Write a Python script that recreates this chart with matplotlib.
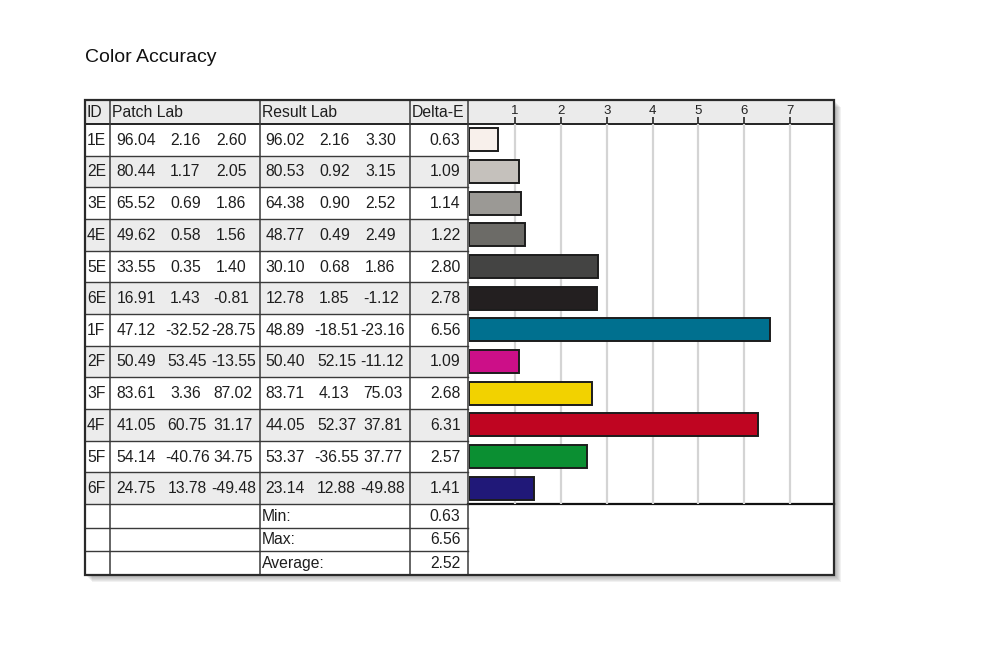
import matplotlib
matplotlib.use("Agg")
import matplotlib.pyplot as plt
from matplotlib.patches import Rectangle

# ---------------- data ----------------
patch_ids = ["1E", "2E", "3E", "4E", "5E", "6E", "1F", "2F", "3F", "4F", "5F", "6F"]
patch_L = [96.04, 80.44, 65.52, 49.62, 33.55, 16.91, 47.12, 50.49, 83.61, 41.05, 54.14, 24.75]
patch_a = [2.16, 1.17, 0.69, 0.58, 0.35, 1.43, -32.52, 53.45, 3.36, 60.75, -40.76, 13.78]
patch_b = [2.60, 2.05, 1.86, 1.56, 1.40, -0.81, -28.75, -13.55, 87.02, 31.17, 34.75, -49.48]
result_L = [96.02, 80.53, 64.38, 48.77, 30.10, 12.78, 48.89, 50.40, 83.71, 44.05, 53.37, 23.14]
result_a = [2.16, 0.92, 0.90, 0.49, 0.68, 1.85, -18.51, 52.15, 4.13, 52.37, -36.55, 12.88]
result_b = [3.30, 3.15, 2.52, 2.49, 1.86, -1.12, -23.16, -11.12, 75.03, 37.81, 37.77, -49.88]
delta_e = [0.63, 1.09, 1.14, 1.22, 2.80, 2.78, 6.56, 1.09, 2.68, 6.31, 2.57, 1.41]
bar_colors = ["#f8f0eb", "#c5c1bc", "#9b9995", "#6c6b67", "#444443", "#231f20",
              "#00708f", "#cc0f88", "#f2d200", "#bf0521", "#0b8f32", "#201878"]
summary_labels = ["Min:", "Max:", "Average:"]
summary_values = [0.63, 6.56, 2.52]
header_labels = ["ID", "Patch Lab", "Result Lab", "Delta-E"]
axis_ticks = [1, 2, 3, 4, 5, 6, 7]

# ---------------- layout (pixels) ----------------
W, H = 981, 647
fig = plt.figure(figsize=(W / 100, H / 100), dpi=100)
fig.patch.set_facecolor("white")
ax = fig.add_axes([0, 0, 1, 1])
ax.set_xlim(0, W)
ax.set_ylim(H, 0)
ax.axis("off")

FONT = "Liberation Sans"
FS = 11.3
TXT = "#1e1e1e"
LINE = "#3a3a3a"

cols = [85, 110, 260, 410, 468, 834]
top, head_bot = 100, 124
n = len(patch_ids)
data_bot = 504
row_h = (data_bot - head_bot) / n
sum_h = (575 - data_bot) / 3
bottom = 575

# title
ax.text(85, 57.5, "Color Accuracy", fontsize=14, family=FONT, color="#111111",
        ha="left", va="center")

# shadow
for d in range(1, 8):
    ax.add_patch(Rectangle((cols[0] + d, top + d), cols[-1] - cols[0], bottom - top,
                           facecolor="#555555", alpha=0.08, edgecolor="none", zorder=0))
ax.add_patch(Rectangle((cols[0], top), cols[-1] - cols[0], bottom - top,
                       facecolor="white", edgecolor="none", zorder=0.5))

# header background
ax.add_patch(Rectangle((cols[0], top), cols[-1] - cols[0], head_bot - top,
                       facecolor="#ebebeb", edgecolor="none", zorder=1))
# striped rows
for i in range(n):
    if i % 2 == 1:
        y0 = head_bot + i * row_h
        ax.add_patch(Rectangle((cols[0], y0), cols[4] - cols[0], row_h,
                               facecolor="#ececec", edgecolor="none", zorder=1))

# header text
for lab, x in zip(header_labels, cols[:4]):
    ax.text(x + 2, (top + head_bot) / 2 + 0.5, lab, fontsize=FS, family=FONT, color=TXT,
            ha="left", va="center", zorder=3)

# data rows
offs = [6.5, 55.5, 101.5]
K = 2.2
for i in range(n):
    yc = head_bot + (i + 0.5) * row_h + 0.5
    ax.text(cols[0] + 2, yc, patch_ids[i], fontsize=FS, family=FONT, color=TXT,
            ha="left", va="center", zorder=3)
    for c, col, vals in ((0, cols[1], (patch_L[i], patch_a[i], patch_b[i])),
                         (1, cols[2], (result_L[i], result_a[i], result_b[i]))):
        for j, (o, v) in enumerate(zip(offs, vals)):
            s = f"{v:.2f}"
            xs = col + o - c * 0.8
            if j > 0:
                xs += (6 - len(s)) * K
            ax.text(xs, yc, s, fontsize=FS, family=FONT, color=TXT,
                    ha="left", va="center", zorder=3)
    ax.text(cols[4] - 7.5, yc, f"{delta_e[i]:.2f}", fontsize=FS, family=FONT, color=TXT,
            ha="right", va="center", zorder=3)

# summary rows
for k, (lab, v) in enumerate(zip(summary_labels, summary_values)):
    yc = data_bot + (k + 0.5) * sum_h + 0.5
    ax.text(cols[2] + 2, yc, lab, fontsize=FS, family=FONT, color=TXT,
            ha="left", va="center", zorder=3)
    ax.text(cols[4] - 7.5, yc, f"{v:.2f}", fontsize=FS, family=FONT, color=TXT,
            ha="right", va="center", zorder=3)

# grid lines of table
for i in range(1, n):
    y = head_bot + i * row_h
    ax.plot([cols[0], cols[4]], [y, y], color=LINE, lw=1.0, zorder=4)
for k in range(1, 3):
    y = data_bot + k * sum_h
    ax.plot([cols[0], cols[4]], [y, y], color=LINE, lw=1.0, zorder=4)
ax.plot([cols[0], cols[4]], [data_bot, data_bot], color=LINE, lw=1.0, zorder=4)
ax.plot([cols[4], cols[5]], [data_bot, data_bot], color="#111111", lw=1.6, zorder=4)
ax.plot([cols[0], cols[5]], [head_bot, head_bot], color="#222222", lw=1.4, zorder=4)
for x in cols[1:5]:
    ax.plot([x, x], [top, bottom], color=LINE, lw=1.1, zorder=4)
ax.add_patch(Rectangle((cols[0], top), cols[-1] - cols[0], bottom - top,
                       facecolor="none", edgecolor="#2a2a2a", lw=1.6, zorder=5))

# ---------------- bar chart ----------------
x0, x1 = 469.2, 834
bx = fig.add_axes([x0 / W, 1 - data_bot / H, (x1 - x0) / W, (data_bot - head_bot) / H])
bx.patch.set_alpha(0)
bx.set_xlim(0, (x1 - x0) / 45.83)
bx.set_ylim(n - 0.5, -0.5)
bx.barh(range(n), delta_e, height=0.72, color=bar_colors, edgecolor="#1c1c1c",
        linewidth=1.4, zorder=3)
bx.set_axisbelow(True)
bx.set_xticks(axis_ticks)
bx.set_xticklabels([str(t) for t in axis_ticks])
bx.grid(axis="x", color="#d4d4d4", lw=1.6)
bx.set_yticks([])
bx.xaxis.tick_top()
bx.tick_params(axis="x", direction="out", length=5, width=1.3, color="#333333",
               labelsize=9.5, pad=0.3, labelcolor="#222222")
for lbl in bx.get_xticklabels():
    lbl.set_family(FONT)
for s in bx.spines.values():
    s.set_visible(False)

fig.savefig("out.png", dpi=100, facecolor="white")
